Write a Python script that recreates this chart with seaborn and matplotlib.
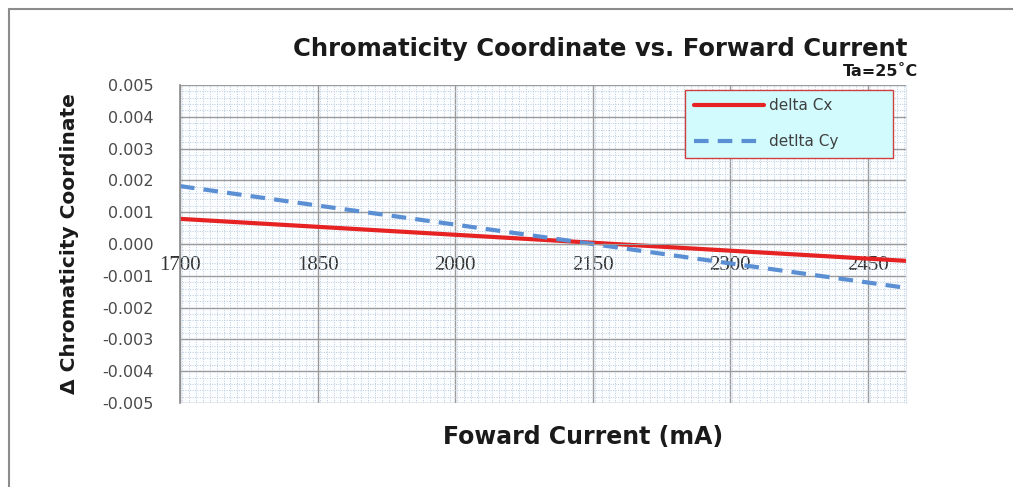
import numpy as np
import pandas as pd
import seaborn as sns
import matplotlib.pyplot as plt
from matplotlib.lines import Line2D
from matplotlib.ticker import MultipleLocator

# data
current_ma = [1700, 1850, 2000, 2150, 2300, 2450, 2492]
delta_cx = [0.00079, 0.00054, 0.00029, 0.00004, -0.00021, -0.00046, -0.00053]
delta_cy = [0.00182, 0.00121, 0.00061, 0.00000, -0.00061, -0.00121, -0.00138]
x_ticks = [1700, 1850, 2000, 2150, 2300, 2450]
y_ticks = [-0.005, -0.004, -0.003, -0.002, -0.001, 0.0, 0.001, 0.002, 0.003, 0.004, 0.005]

sns.set_style("white")
plt.rcParams['font.family'] = ['DejaVu Sans']

fig = plt.figure(figsize=(10.13, 4.87), dpi=100)
ax = fig.add_axes([0.1777, 0.1725, 0.7167, 0.653])

# outer chart frame (top and left edges visible)
fig.add_artist(Line2D([9 / 1013, 1.0], [1 - 9 / 487, 1 - 9 / 487], transform=fig.transFigure,
                      color='#8c8c8c', lw=1.5))
fig.add_artist(Line2D([9 / 1013, 9 / 1013], [0, 1 - 9 / 487], transform=fig.transFigure,
                      color='#8c8c8c', lw=1.5))

sns.lineplot(x=current_ma, y=delta_cx, ax=ax, color='#e62222', lw=3, label='delta Cx')
sns.lineplot(x=current_ma, y=delta_cy, ax=ax, color='#5b8fd3', lw=3, linestyle=(0, (3.5, 2.2)),
             label='detlta Cy')

# x axis crosses at zero, like the original (set before tick labels: it resets them)
ax.spines['bottom'].set_position(('data', 0))
ax.spines['bottom'].set_color('#9a9a9a')
ax.spines['left'].set_color('#8c8c8c')
ax.spines['left'].set_linewidth(1.2)
ax.spines['top'].set_visible(False)
ax.spines['right'].set_color('#e0e6ee')

ax.set_xlim(1700, 2492)
ax.set_ylim(-0.005, 0.005)
ax.set_xticks(x_ticks)
ax.set_xticklabels([str(v) for v in x_ticks], fontfamily='Liberation Serif', fontsize=15,
                   color='#333333')
ax.set_yticks(y_ticks)
ax.set_yticklabels([f"{v:.3f}" for v in y_ticks], fontsize=11.5, color='#4a4a4a')
ax.xaxis.set_minor_locator(MultipleLocator(7.5))
ax.yaxis.set_minor_locator(MultipleLocator(0.0002))

ax.set_facecolor('#fbfdff')
ax.grid(which='minor', color='#b9cbe0', linestyle=(0, (1, 1.5)), lw=0.7)
ax.grid(which='major', color='#9a9a9a', linestyle='-', lw=1.0)
ax.tick_params(which='minor', length=0)
ax.tick_params(axis='y', which='major', length=5, color='#8c8c8c', direction='out', pad=14)
ax.tick_params(axis='x', which='major', length=0, pad=9)

ax.set_xlabel('')
ax.set_ylabel('')

fig.text(0.5925, 0.9, 'Chromaticity Coordinate vs. Forward Current', ha='center', va='center',
         fontsize=17.5, fontweight='bold', color='#1a1a1a')
fig.text(0.869, 0.853, 'Ta=25˚C', ha='center', va='center', fontsize=11.5,
         fontweight='bold', color='#1a1a1a')
fig.text(0.576, 0.103, 'Foward Current (mA)', ha='center', va='center',
         fontsize=17, fontweight='bold', color='#1a1a1a')
fig.text(0.069, 0.5, 'Δ Chromaticity Coordinate', ha='center', va='center', rotation=90,
         fontsize=14.5, fontweight='bold', color='#1a1a1a',
         family=['Liberation Sans Narrow', 'DejaVu Sans'])

leg = ax.legend(loc='upper left', bbox_to_anchor=(0.696, 0.774, 0.286, 0.21),
                mode='expand', frameon=True, fancybox=False, handlelength=4.6,
                labelspacing=1.35, fontsize=11, borderpad=0.55, handletextpad=0.3,
                borderaxespad=0)
leg.get_frame().set_facecolor('#d2fbfd')
leg.get_frame().set_edgecolor('#d04040')
leg.get_frame().set_alpha(1)
for t in leg.get_texts():
    t.set_color('#404040')

fig.savefig('out.png', dpi=100)
